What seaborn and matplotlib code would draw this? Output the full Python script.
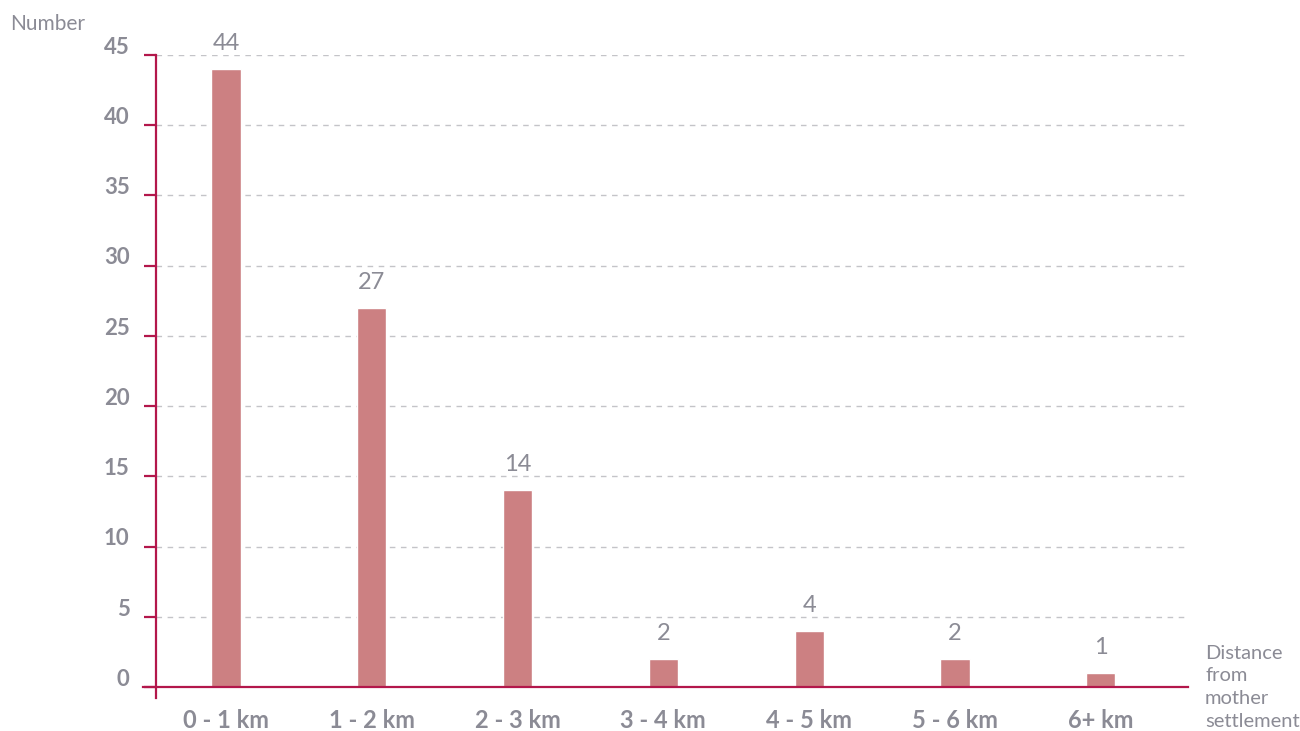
import matplotlib
matplotlib.use('Agg')
import matplotlib.pyplot as plt
import matplotlib.transforms as mtrans
import seaborn as sns
import pandas as pd

# data
categories = ['0 - 1 km', '1 - 2 km', '2 - 3 km', '3 - 4 km', '4 - 5 km', '5 - 6 km', '6+ km']
counts = [44, 27, 14, 2, 4, 2, 1]
y_ticks = [0, 5, 10, 15, 20, 25, 30, 35, 40, 45]

BAR = '#cc8082'
AXIS = '#b3174b'
TEXT = '#8b8b95'
GRID = '#c4c4c8'

sns.set_theme(style='white')
plt.rcParams['font.family'] = ['Lato', 'DejaVu Sans']

df = pd.DataFrame({'dist': categories, 'n': counts})

fig = plt.figure(figsize=(13, 7.31), dpi=100)
ax = fig.add_axes([0.12, 0.0602, 0.794, 0.8646])

sns.barplot(data=df, x='dist', y='n', color=BAR, width=0.2, saturation=1, ax=ax)

ax.set_xlim(-0.48, 6.6)
ax.set_ylim(0, 45)
ax.set_yticks(y_ticks)
ax.yaxis.grid(True, linestyle=(0, (4, 4)), color=GRID, linewidth=1)
ax.set_axisbelow(True)

for s in ['top', 'right']:
    ax.spines[s].set_visible(False)
ax.spines['left'].set_color(AXIS)
ax.spines['left'].set_linewidth(1.6)
ax.spines['left'].set_bounds(-0.8, 45)
ax.spines['bottom'].set_color(AXIS)
ax.spines['bottom'].set_linewidth(1.6)
ax.spines['bottom'].set_bounds(-0.57, 6.6)

ax.tick_params(axis='y', which='both', left=True, length=9, width=1.6, color=AXIS,
               labelsize=16, labelcolor=TEXT, pad=10)
ax.tick_params(axis='x', bottom=False, labelsize=17, labelcolor=TEXT, pad=10)
for lab in ax.get_yticklabels() + ax.get_xticklabels():
    lab.set_fontweight('bold')

# y numbers sit a little above their gridlines in the original
shift = mtrans.ScaledTranslation(0, 7 / 72, fig.dpi_scale_trans)
for tick in ax.yaxis.get_major_ticks():
    tick.label1.set_transform(tick.label1.get_transform() + shift)

ax.set_xlabel('')
ax.set_ylabel('')

ax.bar_label(ax.containers[0], labels=[str(v) for v in counts], padding=11,
             fontsize=17, color=TEXT)

fig.text(0.008, 0.967, 'Number', fontsize=15, color=TEXT, ha='left', va='center')
fig.text(0.927, 0.118, 'Distance\nfrom\nmother\nsettlement', fontsize=14.5, color=TEXT,
         ha='left', va='top', linespacing=1.4)

fig.savefig('out.png', dpi=100)
